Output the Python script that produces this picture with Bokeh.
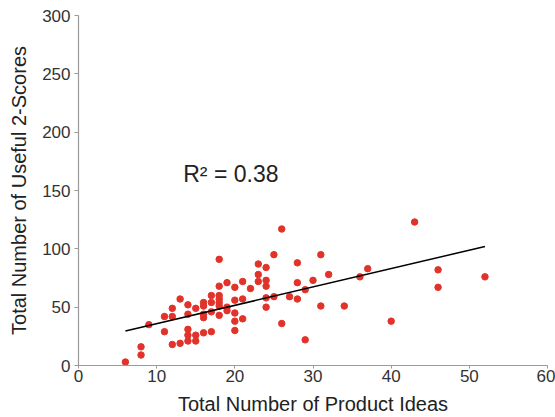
from bokeh.plotting import figure
from bokeh.models import Range1d, FixedTicker, Label
from bokeh.embed import file_html
from bokeh.resources import INLINE

ideas = [6, 8, 8, 9, 11, 11, 12, 12, 12, 13, 13, 14, 14, 14, 14, 14, 15, 15, 15,
         16, 16, 16, 16, 16, 17, 17, 17, 17, 18, 18, 18, 18, 18, 18, 18, 19, 19, 19,
         20, 20, 20, 20, 20, 21, 21, 21, 22, 23, 23, 23, 24, 24, 24, 24, 24, 25, 25,
         26, 26, 27, 28, 28, 28, 29, 29, 30, 31, 31, 32, 34, 36, 37, 40, 43, 46, 46, 52]
scores = [3, 9, 16, 35, 42, 29, 49, 42, 18, 57, 19, 52, 44, 31, 26, 21, 49, 26, 21,
          54, 51, 44, 41, 28, 60, 54, 46, 29, 91, 68, 60, 57, 54, 51, 43, 71, 50, 47,
          67, 56, 45, 38, 30, 72, 57, 40, 66, 87, 78, 72, 84, 73, 68, 58, 50, 95, 59,
          117, 36, 59, 88, 71, 57, 65, 22, 73, 95, 51, 78, 51, 76, 83, 38, 123, 82, 67, 76]

fit_x = [6, 52]
fit_y = [29.5, 102]

x_ticks = [0, 10, 20, 30, 40, 50, 60]
y_ticks = [0, 50, 100, 150, 200, 250, 300]
r2_text = "R\u00b2 = 0.38"

p = figure(width=555, height=417, output_backend="svg", toolbar_location=None,
           x_range=Range1d(0, 60), y_range=Range1d(0, 300),
           min_border_left=78, min_border_right=8, min_border_top=15, min_border_bottom=48)
p.outline_line_color = None
p.grid.visible = False
p.background_fill_color = "white"

font = "Liberation Sans"
for ax in (p.xaxis[0], p.yaxis[0]):
    ax.axis_line_color = "#9a9a9a"
    ax.axis_line_width = 1.2
    ax.major_tick_line_color = "#9a9a9a"
    ax.major_tick_in = 0
    ax.minor_tick_line_color = None
    ax.major_label_text_font = font
    ax.major_label_text_font_size = "17px"
    ax.major_label_text_color = "#333333"
    ax.axis_label_text_font = font
    ax.axis_label_text_font_size = "20px"
    ax.axis_label_text_font_style = "normal"
    ax.axis_label_text_color = "#222222"

p.xaxis.major_tick_out = 3
p.yaxis.major_tick_out = 4
p.xaxis.ticker = FixedTicker(ticks=x_ticks)
p.yaxis.ticker = FixedTicker(ticks=y_ticks)
p.xaxis.axis_label = "Total Number of Product Ideas"
p.yaxis.axis_label = "Total Number of Useful 2-Scores"
p.xaxis.major_label_standoff = 1
p.yaxis.major_label_standoff = 4
p.xaxis.axis_label_standoff = 8
p.yaxis.axis_label_standoff = 9

p.scatter(ideas, scores, size=6.5, color="#e2332b", line_color="#e2332b")
p.line(fit_x, fit_y, line_color="black", line_width=1.5)

p.add_layout(Label(x=13.4, y=164, text=r2_text, text_font=font, text_font_size="23px",
                   text_baseline="middle", text_color="#222222"))

open("out.html", "w").write(file_html(p, INLINE))
